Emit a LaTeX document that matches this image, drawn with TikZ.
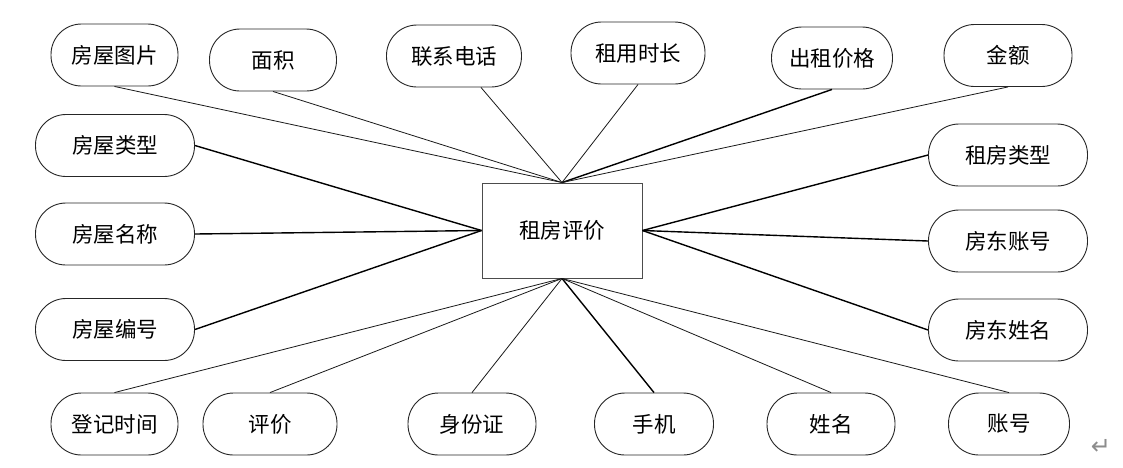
\documentclass[tikz,border=0pt]{standalone}
\usepackage{fontspec}
\newfontfamily\cjk{Noto Sans CJK SC}
\newfontfamily\dejavu{DejaVu Sans}
\begin{document}
\begin{tikzpicture}[x=1pt,y=-1pt,
  attr/.style={draw=black!85, line width=0.9pt, rounded corners=30.5pt, minimum height=62pt, inner sep=0pt, font=\cjk\fontsize{21.5}{24}\selectfont},
  entbox/.style={draw=black!70, line width=0.9pt, minimum width=160pt, minimum height=95pt, inner sep=0pt, font=\cjk\fontsize{21.5}{24}\selectfont},
  thinlink/.style={line width=0.8pt, draw=black!90},
  heavylink/.style={line width=1.4pt, draw=black}
]
\useasboundingbox (0,0) rectangle (1123,467);
\fill[white] (0,0) rectangle (1123,467);

\node[entbox] (e) at (562,230.5) {租房评价};

% top row
\node[attr, minimum width=127pt] (t1) at (114.5,55) {房屋图片};
\node[attr, minimum width=127pt] (t2) at (273,60) {面积};
\node[attr, minimum width=135pt] (t3) at (454,56) {联系电话};
\node[attr, minimum width=134pt] (t4) at (638,53) {租用时长};
\node[attr, minimum width=121pt] (t5) at (832,58) {出租价格};
\node[attr, minimum width=128pt] (t6) at (1008,55.5) {金额};

% left column
\node[attr, minimum width=159pt] (l1) at (115,145.5) {房屋类型};
\node[attr, minimum width=159pt] (l2) at (115,234) {房屋名称};
\node[attr, minimum width=159pt] (l3) at (115,329.5) {房屋编号};

% right column
\node[attr, minimum width=159pt] (r1) at (1008,155) {租房类型};
\node[attr, minimum width=159pt] (r2) at (1008,241) {房东账号};
\node[attr, minimum width=159pt] (r3) at (1008,330) {房东姓名};

% bottom row
\node[attr, minimum width=127pt] (b1) at (114.5,424) {登记时间};
\node[attr, minimum width=134pt] (b2) at (270,424) {评价};
\node[attr, minimum width=128pt] (b3) at (472,424) {身份证};
\node[attr, minimum width=119pt] (b4) at (654,424) {手机};
\node[attr, minimum width=128pt] (b5) at (831,424) {姓名};
\node[attr, minimum width=121pt] (b6) at (1009,424) {账号};

\node[font=\dejavu\fontsize{24}{24}\selectfont, text=black!45, inner sep=0pt] (ret) at (1101,447) {↵};

% connectors
\draw[thinlink] (t1.south) -- (e.north);
\draw[thinlink] (t2.south) -- (e.north);
\draw[thinlink] ([xshift=27pt]t3.south) -- (e.north);
\draw[thinlink] (t4.south) -- (e.north);
\draw[heavylink] (t5.south) -- (e.north);
\draw[thinlink] (t6.south) -- (e.north);

\draw[heavylink] (l1.east) -- (e.west);
\draw[heavylink] (l2.east) -- (e.west);
\draw[heavylink] (l3.east) -- (e.west);

\draw[heavylink] (r1.west) -- (e.east);
\draw[heavylink] (r2.west) -- (e.east);
\draw[heavylink] (r3.west) -- (e.east);

\draw[thinlink] (b1.north) -- (e.south);
\draw[thinlink] (b2.north) -- (e.south);
\draw[thinlink] (b3.north) -- (e.south);
\draw[heavylink] (b4.north) -- (e.south);
\draw[thinlink] (b5.north) -- (e.south);
\draw[thinlink] (b6.north) -- (e.south);
\end{tikzpicture}
\end{document}
